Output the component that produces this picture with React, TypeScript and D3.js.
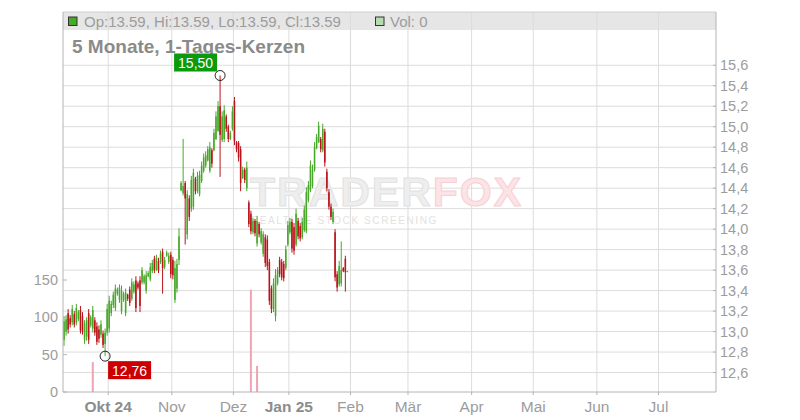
import React from "react";
import * as d3 from "d3";

// ---------- data ----------
const FIRST_DAY = "2024-09-09";
const LAST_AXIS_DAY = "2025-07-28";
const closedDays = ["2024-12-24", "2024-12-25", "2024-12-26", "2024-12-31", "2025-01-01"];

// [open, high, low, close] for each session, starting at FIRST_DAY
const ohlc: [number, number, number, number][] = [
  [12.92, 13.15, 12.86, 13.10], [13.00, 13.16, 12.96, 13.12], [13.18, 13.22, 12.98, 13.02], [13.13, 13.16, 13.04, 13.07],
  [13.09, 13.26, 13.06, 13.22], [13.17, 13.20, 13.04, 13.07], [13.09, 13.27, 13.06, 13.23], [13.12, 13.21, 13.10, 13.19],
  [13.21, 13.25, 12.98, 13.01], [13.15, 13.19, 12.97, 13.00], [12.92, 13.11, 12.88, 13.08], [12.95, 13.14, 12.91, 13.11],
  [13.18, 13.22, 12.88, 12.92], [13.06, 13.16, 13.04, 13.14], [13.03, 13.25, 12.99, 13.21], [13.11, 13.14, 12.96, 12.99],
  [13.05, 13.09, 12.87, 12.90], [13.02, 13.06, 12.89, 12.93], [12.97, 13.11, 12.94, 13.07], [12.98, 13.01, 12.84, 12.87],
  [12.88, 13.03, 12.76, 12.99], [12.99, 13.27, 12.96, 13.22], [13.03, 13.35, 12.99, 13.30], [13.18, 13.30, 13.15, 13.27],
  [13.26, 13.39, 13.23, 13.36], [13.23, 13.46, 13.20, 13.42], [13.37, 13.43, 13.35, 13.41], [13.31, 13.46, 13.28, 13.43],
  [13.20, 13.45, 13.17, 13.40], [13.31, 13.39, 13.29, 13.37], [13.18, 13.42, 13.15, 13.38], [13.36, 13.37, 13.30, 13.32],
  [13.41, 13.44, 13.25, 13.28], [13.32, 13.52, 13.30, 13.48], [13.39, 13.49, 13.37, 13.46], [13.50, 13.54, 13.19, 13.23],
  [13.47, 13.49, 13.41, 13.43], [13.50, 13.54, 13.19, 13.25], [13.48, 13.63, 13.46, 13.60], [13.48, 13.56, 13.46, 13.54],
  [13.40, 13.59, 13.37, 13.55], [13.54, 13.59, 13.53, 13.57], [13.51, 13.67, 13.49, 13.63], [13.59, 13.70, 13.57, 13.67],
  [13.71, 13.74, 13.57, 13.60], [13.61, 13.75, 13.59, 13.72], [13.69, 13.72, 13.57, 13.60], [13.68, 13.79, 13.66, 13.76],
  [13.78, 13.81, 13.37, 13.62], [13.63, 13.73, 13.61, 13.70], [13.74, 13.79, 13.73, 13.77], [13.68, 13.77, 13.66, 13.74],
  [13.75, 13.78, 13.52, 13.56], [13.70, 13.73, 13.51, 13.55], [13.31, 13.69, 13.28, 13.62], [13.42, 13.71, 13.38, 13.66],
  [13.70, 14.01, 13.65, 13.93], [14.38, 14.47, 14.37, 14.45], [14.35, 14.88, 14.33, 14.42], [14.45, 14.47, 13.85, 14.30],
  [13.95, 14.38, 13.90, 14.34], [14.30, 14.33, 14.08, 14.12], [14.20, 14.52, 14.17, 14.48], [14.22, 14.59, 14.19, 14.55],
  [14.49, 14.51, 14.34, 14.37], [14.37, 14.56, 14.35, 14.52], [14.34, 14.57, 14.32, 14.53], [14.47, 14.66, 14.45, 14.62],
  [14.57, 14.74, 14.55, 14.70], [14.62, 14.76, 14.60, 14.72], [14.67, 14.81, 14.66, 14.78], [14.57, 14.85, 14.55, 14.80],
  [14.77, 14.79, 14.60, 14.64], [14.77, 14.98, 14.76, 14.94], [14.88, 15.15, 14.87, 15.10], [14.96, 15.25, 14.95, 15.20],
  [15.20, 15.50, 14.51, 14.92], [14.87, 15.15, 14.85, 15.10], [14.88, 15.21, 14.85, 15.16], [15.10, 15.12, 14.95, 14.98],
  [15.00, 15.02, 14.85, 14.88], [14.88, 14.96, 14.87, 14.94], [14.98, 15.20, 14.96, 15.15], [15.25, 15.29, 14.82, 14.86],
  [14.85, 14.86, 14.75, 14.78], [14.84, 14.86, 14.66, 14.70], [14.78, 14.81, 14.37, 14.45], [14.50, 14.61, 14.49, 14.58],
  [14.58, 14.60, 14.45, 14.48], [14.40, 14.66, 14.37, 14.60], [14.26, 14.28, 14.02, 14.05], [14.15, 14.18, 13.95, 13.98],
  [13.97, 14.11, 13.95, 14.08], [14.08, 14.10, 13.93, 13.96], [13.86, 14.13, 13.83, 14.08], [14.05, 14.07, 13.92, 13.95],
  [13.87, 14.01, 13.85, 13.98], [13.76, 13.98, 13.73, 13.95], [13.92, 13.95, 13.63, 13.67], [13.90, 13.94, 13.60, 13.64],
  [13.68, 13.71, 13.26, 13.30], [13.42, 13.45, 13.18, 13.22], [13.22, 13.52, 13.19, 13.47], [13.15, 13.61, 13.10, 13.55],
  [13.47, 13.63, 13.45, 13.60], [13.70, 13.73, 13.53, 13.56], [13.68, 13.71, 13.50, 13.53], [13.66, 13.69, 13.49, 13.52],
  [13.62, 13.84, 13.60, 13.80], [13.85, 14.08, 13.83, 14.04], [13.97, 14.11, 13.95, 14.07], [14.07, 14.10, 13.77, 13.81],
  [14.02, 14.06, 13.75, 13.79], [13.85, 14.20, 13.83, 14.15], [14.08, 14.11, 13.90, 13.93], [14.03, 14.06, 13.88, 13.91],
  [13.92, 14.11, 13.90, 14.07], [13.99, 14.23, 13.97, 14.19], [13.98, 14.41, 13.96, 14.36], [14.28, 14.47, 14.26, 14.43],
  [14.38, 14.67, 14.36, 14.62], [14.42, 14.63, 14.40, 14.58], [14.58, 14.85, 14.56, 14.80], [14.79, 14.93, 14.78, 14.90],
  [14.85, 15.05, 14.84, 15.01], [14.88, 14.90, 14.75, 14.78], [14.77, 15.03, 14.75, 14.98], [14.95, 14.98, 14.61, 14.65],
  [14.56, 14.59, 14.37, 14.40], [14.36, 14.39, 14.19, 14.22], [14.22, 14.25, 14.09, 14.12], [14.07, 14.20, 14.05, 14.17],
  [13.97, 14.00, 13.49, 13.53], [13.56, 13.59, 13.39, 13.43], [13.46, 13.69, 13.44, 13.64], [13.47, 13.88, 13.44, 13.60],
  [13.62, 13.63, 13.58, 13.59], [13.71, 13.74, 13.39, 13.58], [13.59, 13.59, 13.59, 13.59],
];

const volumeDays = ["2024-09-23", "2024-12-09", "2024-12-12"];
const volumeValues = [40, 137, 35];

const priceTicks = [12.6, 12.8, 13.0, 13.2, 13.4, 13.6, 13.8, 14.0, 14.2, 14.4, 14.6, 14.8, 15.0, 15.2, 15.4, 15.6];
const volumeTicks = [0, 50, 100, 150];
const monthStarts = ["2024-10-01", "2024-11-01", "2024-12-01", "2025-01-01", "2025-02-01", "2025-03-01", "2025-04-01", "2025-05-01", "2025-06-01", "2025-07-01"];
const monthLabels = ["Okt 24", "Nov", "Dez", "Jan 25", "Feb", "Mär", "Apr", "Mai", "Jun", "Jul"];
const monthBold = [true, false, false, true, false, false, false, false, false, false];

const PRICE_DOMAIN: [number, number] = [12.41, 16.12];
const VOLUME_DOMAIN: [number, number] = [0, 509];
const TITLE = "5 Monate, 1-Tages-Kerzen";

// ---------- layout / style ----------
const W = 800;
const H = 420;
const L = 63, R = 716, T = 12, B = 392;
const HEADER_B = 30;
const FONT = "'Liberation Sans', Arial, Helvetica, sans-serif";
const GREEN = "#48a82a";
const RED = "#b8141a";
const GRID = "#dcdcdc";
const AXIS = "#b4b4b4";
const LABEL = "#9c9c9c";

const parse = d3.timeParse("%Y-%m-%d");
const fmt = d3.timeFormat("%Y-%m-%d");

export default function App() {
  const slots = d3.timeDay
    .range(parse(FIRST_DAY)!, d3.timeDay.offset(parse(LAST_AXIS_DAY)!, 1))
    .filter((d) => !closedDays.includes(fmt(d)));
  const slotKeys = slots.map((d) => fmt(d));

  const x = d3.scaleLinear().domain([0, slots.length]).range([L, R]);
  const y = d3.scaleLinear().domain(PRICE_DOMAIN).range([B, T]);
  const yv = d3.scaleLinear().domain(VOLUME_DOMAIN).range([B, T]);
  const step = x(1) - x(0);
  const bodyW = Math.max(1, step * 0.75);

  const monthIdx = monthStarts.map((m) => d3.bisectLeft(slots, parse(m)!));

  let hiIdx = 0, loIdx = 0;
  ohlc.forEach((c, i) => {
    if (c[1] > ohlc[hiIdx][1]) hiIdx = i;
    if (c[2] < ohlc[loIdx][2]) loIdx = i;
  });
  const hx = x(hiIdx + 0.5), hy = y(ohlc[hiIdx][1]);
  const lx = x(loIdx + 0.5), ly = y(ohlc[loIdx][2]);
  const comma = (v: number) => v.toFixed(2).replace(".", ",");

  const last = ohlc[ohlc.length - 1];
  const headerText = `Op:${last[0].toFixed(2)}, Hi:${last[1].toFixed(2)}, Lo:${last[2].toFixed(2)}, Cl:${last[3].toFixed(2)}`;

  return (
    <svg width={W} height={H} style={{ position: "absolute", left: 0, top: 0, background: "#fff" }} fontFamily={FONT}>
      <rect x={L} y={T} width={R - L} height={HEADER_B - T} fill="#e6e6e6" />
      {priceTicks.map((t) => (
        <line key={"h" + t} x1={L} x2={R} y1={y(t)} y2={y(t)} stroke={GRID} strokeWidth={1} />
      ))}
      {monthIdx.map((mi, k) => (
        <line key={"v" + k} x1={x(mi)} x2={x(mi)} y1={T} y2={B} stroke={GRID} strokeWidth={1} />
      ))}

      {/* watermark */}
      <text x={250} y={206} fontSize={41} fontWeight="bold" fill="#eeeeee" stroke="#e2e2e2" strokeWidth={1} letterSpacing={2}>
        TRADER<tspan fill="#fce3e6" stroke="#f7d0d5">FOX</tspan>
      </text>
      <text x={251} y={224} fontSize={10} fill="#e2e2e2" letterSpacing={1.6}>
        REALTIME STOCK SCREENING
      </text>

      {/* volume */}
      {volumeDays.map((d, k) => {
        const i = slotKeys.indexOf(d);
        return (
          <rect key={"vol" + k} x={x(i + 0.5) - 1} width={2} y={yv(volumeValues[k])} height={B - yv(volumeValues[k])} fill="#f2a3b3" />
        );
      })}

      {/* candles */}
      {ohlc.map((c, i) => {
        const [o, h, lo, cl] = c;
        const cx = x(i + 0.5);
        const col = cl >= o ? GREEN : RED;
        const top = y(Math.max(o, cl));
        const bh = Math.max(1, y(Math.min(o, cl)) - top);
        return (
          <g key={"c" + i}>
            <line x1={cx} x2={cx} y1={y(h)} y2={Math.max(y(lo), y(h) + 1)} stroke={col} strokeWidth={1} />
            <rect x={cx - bodyW / 2} y={top} width={bodyW} height={bh} fill={col} />
          </g>
        );
      })}

      {/* frame / axes */}
      <line x1={L} x2={R} y1={T} y2={T} stroke="#cfcfcf" />
      <line x1={L} x2={L} y1={T} y2={B} stroke={AXIS} />
      <line x1={R} x2={R} y1={T} y2={B} stroke={AXIS} />
      <line x1={L} x2={R} y1={B} y2={B} stroke={AXIS} />

      {priceTicks.map((t) => (
        <g key={"pt" + t}>
          <line x1={R - 3} x2={R} y1={y(t)} y2={y(t)} stroke={AXIS} />
          <text x={R + 4} y={y(t) + 5} fontSize={14.5} fill={LABEL}>
            {t.toFixed(1).replace(".", ",")}
          </text>
        </g>
      ))}

      {volumeTicks.map((t) => (
        <g key={"vt" + t}>
          <line x1={L} x2={L + 4} y1={yv(t)} y2={yv(t)} stroke={AXIS} />
          <text x={L - 5} y={yv(t) + 5} fontSize={14.5} fill={LABEL} textAnchor="end">
            {t}
          </text>
        </g>
      ))}

      {monthIdx.map((mi, k) => (
        <g key={"mt" + k}>
          <line x1={x(mi)} x2={x(mi)} y1={B} y2={B + 3} stroke={AXIS} />
          <text
            x={x(mi)}
            y={412}
            fontSize={15.5}
            textAnchor="middle"
            fill={monthBold[k] ? "#8c8c8c" : LABEL}
            fontWeight={monthBold[k] ? "bold" : "normal"}
          >
            {monthLabels[k]}
          </text>
        </g>
      ))}

      {/* header legend */}
      <rect x={68.5} y={17} width={8.5} height={8.5} fill={last[3] >= last[0] ? GREEN : RED} stroke="#333" strokeWidth={1} />
      <text x={84} y={26.5} fontSize={15} fill={LABEL}>
        {headerText}
      </text>
      <rect x={375.5} y={17} width={8.5} height={8.5} fill="#b5ddb0" stroke="#333" strokeWidth={1} />
      <text x={390} y={26.5} fontSize={15} fill={LABEL}>
        Vol: 0
      </text>

      {/* title */}
      <text x={72} y={53} fontSize={19} fontWeight="bold" fill="#8a8a8a">
        {TITLE}
      </text>

      {/* high annotation */}
      <rect x={hx - 46} y={hy - 22} width={43} height={18} fill="#0b9a0b" />
      <text x={hx - 24.5} y={hy - 7.5} fontSize={14} fill="#fff" textAnchor="middle">
        {comma(ohlc[hiIdx][1])}
      </text>
      <circle cx={hx} cy={hy} r={5} fill="none" stroke="#222" strokeWidth={1} />

      {/* low annotation */}
      <rect x={lx + 3} y={ly + 5} width={43} height={18} fill="#cc0000" />
      <text x={lx + 24.5} y={ly + 19.5} fontSize={14} fill="#fff" textAnchor="middle">
        {comma(ohlc[loIdx][2])}
      </text>
      <circle cx={lx} cy={ly} r={5} fill="none" stroke="#222" strokeWidth={1} />
    </svg>
  );
}
